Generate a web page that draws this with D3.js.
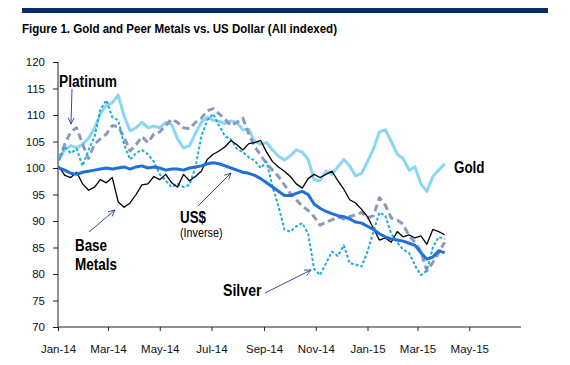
<!DOCTYPE html>
<html><head><meta charset="utf-8">
<script src="https://cdn.jsdelivr.net/npm/d3@7"></script>
<style>body{margin:0;background:#fff}svg{display:block}</style>
</head><body>
<svg id="c" width="570" height="365"></svg>
<script>
const dates = ["2014-01-02","2014-01-09","2014-01-16","2014-01-23","2014-01-30","2014-02-06","2014-02-13","2014-02-20","2014-02-27","2014-03-06","2014-03-13","2014-03-20","2014-03-27","2014-04-03","2014-04-10","2014-04-17","2014-04-24","2014-05-01","2014-05-08","2014-05-15","2014-05-22","2014-05-29","2014-06-05","2014-06-12","2014-06-19","2014-06-26","2014-07-03","2014-07-10","2014-07-17","2014-07-24","2014-07-31","2014-08-07","2014-08-14","2014-08-21","2014-08-28","2014-09-04","2014-09-11","2014-09-18","2014-09-25","2014-10-02","2014-10-09","2014-10-16","2014-10-23","2014-10-30","2014-11-06","2014-11-13","2014-11-20","2014-11-27","2014-12-04","2014-12-11","2014-12-18","2014-12-25","2015-01-01","2015-01-08","2015-01-15","2015-01-22","2015-01-29","2015-02-05","2015-02-12","2015-02-19","2015-02-26","2015-03-05","2015-03-12","2015-03-19","2015-03-26","2015-04-02"];
const gold = [101.5,103.5,104.2,103.8,104.5,105.6,107.5,110.2,111.8,112.3,113.8,109.8,107.0,107.6,108.6,107.6,107.9,107.6,108.6,108.2,105.5,103.8,104.2,106.5,108.6,109.6,109.0,108.8,108.4,108.9,108.6,107.2,107.3,105.0,104.5,104.8,103.4,102.2,101.5,102.3,103.4,103.0,101.6,97.8,97.6,99.4,98.8,100.2,101.6,100.4,98.5,99.0,101.2,103.6,106.8,107.2,105.0,102.6,101.8,99.6,100.2,97.0,95.6,98.4,99.6,100.8];
const platinum = [101.5,104.5,106.8,107.6,104.5,101.8,104.5,105.5,106.4,108.0,107.8,105.8,103.2,104.4,105.9,104.8,106.4,106.8,108.0,109.2,108.6,107.6,107.4,108.6,109.4,110.8,111.2,110.2,109.2,108.0,108.6,109.4,106.4,104.0,102.4,100.8,99.6,98.4,96.8,95.2,94.0,92.8,92.0,90.8,89.2,89.8,90.2,90.8,90.4,90.8,91.2,91.6,90.6,91.0,94.4,93.0,90.6,90.2,89.4,87.2,86.0,84.2,80.6,82.2,84.0,86.0];
const silver = [101.5,104.0,102.8,103.6,100.4,103.4,105.8,111.0,112.8,109.6,109.0,104.4,101.6,102.8,103.4,102.6,101.2,98.8,97.6,96.4,97.0,96.4,96.8,100.0,106.0,109.0,110.2,108.0,106.0,105.4,103.6,103.0,102.0,101.4,100.0,101.2,96.4,92.8,88.4,88.0,89.0,89.6,87.6,81.0,79.8,82.0,84.2,83.4,85.4,82.0,81.8,81.4,84.2,88.0,91.6,91.0,87.6,86.0,84.6,84.0,81.6,79.8,80.6,85.0,87.0,86.6];
const baseMetals = [100.3,98.6,98.2,99.2,97.0,95.8,96.4,97.8,97.2,98.2,93.6,92.6,93.4,95.0,96.8,97.0,98.4,97.8,98.8,97.2,96.4,98.8,97.6,98.4,99.4,101.6,102.6,103.2,104.0,105.2,104.4,103.4,104.6,104.8,105.2,103.0,101.2,100.2,99.4,98.4,97.0,96.2,98.0,98.8,98.2,98.8,99.4,97.6,96.0,94.0,93.4,92.2,90.8,88.6,86.4,86.8,86.0,88.0,87.0,87.4,86.8,87.2,85.6,88.4,88.0,87.4];
const usdInverse = [100.0,99.6,99.0,98.8,99.2,99.4,99.6,99.8,100.0,99.8,100.0,100.2,99.8,100.2,100.4,100.0,100.2,100.0,99.6,99.8,99.8,99.6,100.0,100.2,100.4,100.8,101.0,100.8,100.4,100.0,99.6,99.2,99.0,98.6,98.0,97.2,96.4,95.6,94.8,94.8,95.2,95.6,95.0,93.2,92.4,91.8,91.4,91.0,90.8,90.4,89.8,89.6,89.0,88.4,87.6,87.0,86.6,86.4,86.2,85.8,85.4,84.0,82.8,83.2,84.4,84.0];
const yTicks = [70,75,80,85,90,95,100,105,110,115,120];
const xTickDates = ["2014-01-01","2014-03-01","2014-05-01","2014-07-01","2014-09-01","2014-11-01","2015-01-01","2015-03-01","2015-05-01"];
const xTickLabels = ["Jan-14","Mar-14","May-14","Jul-14","Sep-14","Nov-14","Jan-15","Mar-15","May-15"];

const parse = d3.timeParse("%Y-%m-%d");
const svg = d3.select("#c");
const x = d3.scaleTime().domain([parse("2014-01-01"), parse("2015-07-01")]).range([58, 521]);
const y = d3.scaleLinear().domain([70, 120]).range([327, 62]);
const font = "'Liberation Sans',Arial,sans-serif";

// header bar and title
svg.append("rect").attr("x", 22).attr("y", 8).attr("width", 526).attr("height", 5).attr("fill", "#0b2b6b");
svg.append("text").attr("x", 22).attr("y", 33)
  .attr("font-family", font).attr("font-weight", "bold").attr("font-size", 13).attr("fill", "#000")
  .attr("textLength", 315).attr("lengthAdjust", "spacingAndGlyphs")
  .text("Figure 1. Gold and Peer Metals vs. US Dollar (All indexed)");

// axes
const yAxis = svg.append("g").attr("transform", "translate(58,0)")
  .call(d3.axisLeft(y).tickValues(yTicks).tickSize(5).tickPadding(8).tickFormat(d3.format("d")));
const xAxis = svg.append("g").attr("transform", "translate(0,327)")
  .call(d3.axisBottom(x).tickValues(xTickDates.map(parse)).tickSize(4).tickPadding(14)
    .tickFormat((d, i) => xTickLabels[i]));
xAxis.select(".domain").attr("d", "M58,0H521");
yAxis.select(".domain").attr("d", "M0,327V62");
[xAxis, yAxis].forEach(g => {
  g.selectAll("path,line").attr("stroke", "#222").attr("stroke-width", 1);
  g.selectAll("text").attr("font-family", font).attr("font-size", 11.5).attr("fill", "#111");
});

const line = d3.line().x((d, i) => x(parse(dates[i]))).y(d => y(d));
const series = [
  {v: gold, c: "#8ad6f5", w: 3, dash: null},
  {v: platinum, c: "#8e98bb", w: 3, dash: "7,4"},
  {v: silver, c: "#1aaee0", w: 2, dash: "3,2"},
  {v: baseMetals, c: "#000", w: 1.3, dash: null},
  {v: usdInverse, c: "#1f6fdf", w: 3, dash: null}
];
series.forEach(s => {
  svg.append("path").datum(s.v).attr("d", line).attr("fill", "none")
    .attr("stroke", s.c).attr("stroke-width", s.w).attr("stroke-linejoin", "round")
    .attr("stroke-dasharray", s.dash);
});

// annotations
function label(t, xx, yy, size, weight, len) {
  svg.append("text").attr("x", xx).attr("y", yy).attr("font-family", font)
    .attr("font-size", size).attr("font-weight", weight).attr("fill", "#000")
    .attr("textLength", len).attr("lengthAdjust", "spacingAndGlyphs").text(t);
}
label("Platinum", 59, 86.5, 16, "bold", 58);
label("Gold", 454, 173, 16, "bold", 30.5);
label("Base", 75, 251, 16, "bold", 32);
label("Metals", 75, 270, 16, "bold", 42);
label("US$", 180, 223, 16, "bold", 26);
label("(Inverse)", 180, 237, 13, "normal", 42.5);
label("Silver", 223, 296, 16, "bold", 38.5);

function arrow(x1, y1, x2, y2) {
  const a = Math.atan2(y2 - y1, x2 - x1), L = 7, sp = 0.45;
  svg.append("line").attr("x1", x1).attr("y1", y1).attr("x2", x2).attr("y2", y2)
    .attr("stroke", "#33508c").attr("stroke-width", 1);
  svg.append("path").attr("fill", "none").attr("stroke", "#33508c").attr("stroke-width", 1)
    .attr("d", `M${x2 - L*Math.cos(a - sp)},${y2 - L*Math.sin(a - sp)}L${x2},${y2}L${x2 - L*Math.cos(a + sp)},${y2 - L*Math.sin(a + sp)}`);
}
arrow(72, 89, 71, 124);
arrow(89, 232, 115, 210);
arrow(198, 206, 231, 173);
arrow(265, 293, 311, 270);
</script>
</body></html>
